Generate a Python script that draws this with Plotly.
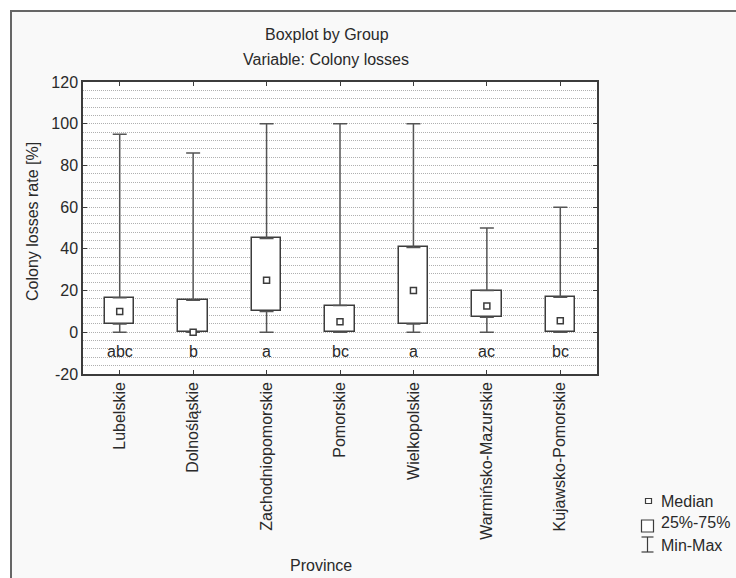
import plotly.graph_objects as go

provinces = ["Lubelskie", "Dolnośląskie", "Zachodniopomorskie", "Pomorskie",
             "Wielkopolskie", "Warmińsko-Mazurskie", "Kujawsko-Pomorskie"]
minimum = [0, 0, 0, 0, 0, 0, 0]
q1 = [4, 0, 10, 0, 4, 7.2, 0]
median = [10, 0, 25, 5, 20, 12.6, 5.5]
q3 = [16.5, 15.4, 45, 12.8, 40.7, 20, 16.8]
maximum = [95, 86, 100, 100, 100, 50, 60]
group_letters = ["abc", "b", "a", "bc", "a", "ac", "bc"]
y_tick_values = [-20, 0, 20, 40, 60, 80, 100, 120]
y_tick_labels = ["-20", "0", "20", "40", "60", "80", "100", "120"]

LETTER_Y = -9
FONT = "Liberation Sans, Arial, sans-serif"
FS = 16
DARK = "#3c3c3c"
TXT = "#2a2a2a"
GRID = "#b0b0b0"

# plot area in pixels
L, R, T, B = 83, 597, 82, 374
W_IMG, H_IMG = 736, 578


def px(x):
    return (x - L) / (R - L)


def py(y):
    return (B - y) / (B - T)


fig = go.Figure()

# boxes (25%-75%)
fig.add_trace(go.Bar(
    x=provinces,
    y=[b - a for a, b in zip(q1, q3)],
    base=q1,
    width=0.4,
    marker=dict(color="white", line=dict(color=DARK, width=1.5)),
    showlegend=False, hoverinfo="skip",
))
# upper whiskers
fig.add_trace(go.Scatter(
    x=provinces, y=q3, mode="markers",
    marker=dict(size=1, color="rgba(0,0,0,0)"),
    error_y=dict(type="data", symmetric=False,
                 array=[m - b for m, b in zip(maximum, q3)],
                 arrayminus=[0] * len(q3),
                 color="#555555", thickness=1.5, width=7),
    showlegend=False, hoverinfo="skip",
))
# lower whiskers
fig.add_trace(go.Scatter(
    x=provinces, y=q1, mode="markers",
    marker=dict(size=1, color="rgba(0,0,0,0)"),
    error_y=dict(type="data", symmetric=False,
                 array=[0] * len(q1),
                 arrayminus=[a - m for a, m in zip(q1, minimum)],
                 color="#555555", thickness=1.5, width=7),
    showlegend=False, hoverinfo="skip",
))
# medians
fig.add_trace(go.Scatter(
    x=provinces, y=median, mode="markers",
    marker=dict(symbol="square", size=6, color="white",
                line=dict(color=DARK, width=1.5)),
    showlegend=False, cliponaxis=False,
))

annotations = []
for p, g in zip(provinces, group_letters):
    annotations.append(dict(x=p, y=LETTER_Y, xref="x", yref="y", text=g,
                            showarrow=False, font=dict(family=FONT, size=FS, color=TXT)))


def label(x, y, text, xanchor="center", angle=0):
    return dict(x=px(x), y=py(y), xref="paper", yref="paper", text=text,
                showarrow=False, xanchor=xanchor, yanchor="middle", textangle=angle,
                font=dict(family=FONT, size=FS, color=TXT))


annotations += [
    label(327, 34, "Boxplot by Group"),
    label(326, 60, "Variable: Colony losses"),
    label(32, 222, "Colony losses rate [%]", angle=-90),
    label(321, 565, "Province"),
    label(659, 501, "Median", "left"),
    label(659, 522, "25%-75%", "left"),
    label(659, 545, "Min-Max", "left"),
]

shapes = [
    # outer frame
    dict(type="rect", xref="paper", yref="paper", layer="below",
         x0=px(11), x1=px(760), y0=py(600), y1=py(11),
         fillcolor="#f9f9f9", line=dict(color="#666666", width=2)),
    # white plot area
    dict(type="rect", xref="paper", yref="paper", layer="below",
         x0=0, x1=1, y0=0, y1=1, fillcolor="white", line=dict(width=0)),
    # legend icons
    dict(type="rect", xref="paper", yref="paper",
         x0=px(645.5), x1=px(651.5), y0=py(503.5), y1=py(498.5),
         fillcolor="white", line=dict(color=DARK, width=1.2)),
    dict(type="rect", xref="paper", yref="paper",
         x0=px(641.5), x1=px(653.5), y0=py(532), y1=py(520),
         fillcolor="white", line=dict(color=DARK, width=1.2)),
    dict(type="line", xref="paper", yref="paper",
         x0=px(647.5), x1=px(647.5), y0=py(552), y1=py(537),
         line=dict(color=DARK, width=1.2)),
    dict(type="line", xref="paper", yref="paper",
         x0=px(641.5), x1=px(653.5), y0=py(537), y1=py(537),
         line=dict(color=DARK, width=1.2)),
    dict(type="line", xref="paper", yref="paper",
         x0=px(641.5), x1=px(653.5), y0=py(552), y1=py(552),
         line=dict(color=DARK, width=1.2)),
]

fig.update_layout(
    width=W_IMG, height=H_IMG,
    margin=dict(l=L, r=W_IMG - R, t=T, b=H_IMG - B, pad=0),
    paper_bgcolor="white", plot_bgcolor="white",
    font=dict(family=FONT, size=FS, color=TXT),
    annotations=annotations, shapes=shapes,
    showlegend=False, bargap=0,
)
fig.update_xaxes(
    type="category", range=[-0.5, 6.5], tickangle=-90,
    showline=True, linecolor=DARK, linewidth=1.5, mirror="ticks",
    ticks="inside", ticklen=4, tickcolor=DARK, showgrid=False,
    tickfont=dict(family=FONT, size=FS, color=TXT),
)
fig.update_yaxes(
    range=[-20, 120], tickmode="array", tickvals=y_tick_values, ticktext=y_tick_labels,
    showline=True, linecolor=DARK, linewidth=1.5, mirror="ticks",
    ticks="inside", ticklen=4, tickcolor=DARK,
    showgrid=True, gridcolor=GRID, griddash="1px,1px", gridwidth=1,
    zeroline=False,
    minor=dict(dtick=4, tick0=0, showgrid=True, gridcolor=GRID,
               griddash="1px,1px", gridwidth=1, ticks=""),
    tickfont=dict(family=FONT, size=FS, color=TXT),
)

fig.write_html("out.html", config={"displayModeBar": False},
               post_script="document.body.style.margin='0px';document.body.style.overflow='hidden';")
